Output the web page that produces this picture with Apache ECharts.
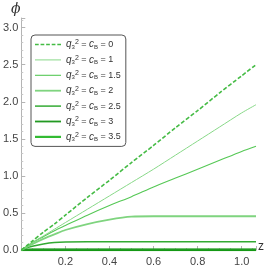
<!DOCTYPE html>
<html><head><meta charset="utf-8">
<script src="https://cdn.jsdelivr.net/npm/echarts@6/dist/echarts.min.js"></script>
<style>html,body{margin:0;padding:0;background:#fff}#c{width:267px;height:267px}</style>
</head><body><div id="c"></div>
<script>
var zValues = [0, 0.025, 0.05, 0.1, 0.15, 0.2, 0.3, 0.4, 0.5, 0.6, 0.7, 0.8, 0.9, 1.0, 1.065];
var legendLabels = ['0', '1', '1.5', '2', '2.5', '3', '3.5'];
var phi_q0   = [0, 0.06, 0.12, 0.24, 0.35, 0.47, 0.71, 0.94, 1.18, 1.41, 1.65, 1.88, 2.12, 2.35, 2.50];
var phi_q1   = [0, 0.05, 0.10, 0.19, 0.28, 0.37, 0.55, 0.73, 0.91, 1.09, 1.28, 1.47, 1.66, 1.85, 1.96];
var phi_q15  = [0, 0.05, 0.10, 0.18, 0.26, 0.33, 0.47, 0.60, 0.72, 0.85, 0.97, 1.09, 1.21, 1.33, 1.40];
var phi_q2   = [0, 0.04, 0.08, 0.15, 0.21, 0.27, 0.35, 0.41, 0.45, 0.455, 0.455, 0.455, 0.455, 0.455, 0.455];
var phi_q25  = [0, 0.03, 0.05, 0.08, 0.10, 0.108, 0.11, 0.11, 0.11, 0.11, 0.11, 0.11, 0.11, 0.11, 0.11];
var phi_q3   = [0, 0.006, 0.008, 0.008, 0.008, 0.008, 0.008, 0.008, 0.008, 0.008, 0.008, 0.008, 0.008, 0.008, 0.008];
var phi_q35  = [0, 0, 0, 0, 0, 0, 0, 0, 0, 0, 0, 0, 0, 0, 0];
var xTicks = [0.2, 0.4, 0.6, 0.8, 1.0];
var yTicks = [0, 0.5, 1, 1.5, 2, 2.5, 3];

var allData = [phi_q0, phi_q1, phi_q15, phi_q2, phi_q25, phi_q3, phi_q35];
var styles = [
  {color:'#44bb44', width:1.6, type:[4,2]},
  {color:'#88d888', width:1.0, type:'solid'},
  {color:'#55c855', width:1.1, type:'solid'},
  {color:'#7fd47f', width:1.8, type:'solid'},
  {color:'#33aa33', width:1.5, type:'solid'},
  {color:'#229922', width:1.8, type:'solid'},
  {color:'#33bb33', width:2.2, type:'solid'}
];
function iconPath(w, dashed){
  if (dashed) {
    var p = '';
    for (var x = 0; x < 26; x += 5.4) p += 'M' + x + ',0h3.6v' + w + 'h-3.6z';
    return 'path://' + p;
  }
  return 'path://M0,0h26v' + w + 'h-26z';
}
var series = allData.map(function(arr, i){
  return {
    name: 'q' + legendLabels[i], type:'line', showSymbol:false, symbol:'none', smooth:0.25,
    data: zValues.map(function(z,j){return [z, arr[j]];}),
    lineStyle:{color:styles[i].color, width:styles[i].width, type:styles[i].type},
    itemStyle:{color:styles[i].color},
    z: 10 - i, animation:false
  };
});
series[6].lineStyle.color = '#119911'; series[6].lineStyle.width = 2.6;

var chart = echarts.init(document.getElementById('c'), null, {renderer:'canvas'});
var axisGray = '#b4b4b4';
var rl = 11;
chart.setOption({
  animation:false,
  grid:{left:17, right:11, top:18, bottom:16.5, containLabel:false},
  xAxis:{type:'value', min:0, max:1.065, interval:0.2,
    axisLine:{onZero:false, lineStyle:{color:axisGray}},
    axisTick:{inside:true, length:4, lineStyle:{color:axisGray}},
    minorTick:{show:true, splitNumber:4, length:2, lineStyle:{color:'#c8c8c8'}},
    splitLine:{show:false},
    axisLabel:{color:'#444', fontSize:11, fontFamily:'Liberation Sans', margin:6,
      formatter:function(v){ return xTicks.some(function(t){return Math.abs(t-v)<1e-6;}) ? v.toFixed(1) : ''; }}
  },
  yAxis:{type:'value', min:0, max:3.13, interval:0.5,
    axisLine:{show:true, onZero:false, lineStyle:{color:axisGray}},
    axisTick:{show:true, inside:true, length:4, lineStyle:{color:axisGray}},
    minorTick:{show:true, splitNumber:5, length:2, lineStyle:{color:'#c8c8c8'}},
    splitLine:{show:false},
    axisLabel:{color:'#444', fontSize:11, fontFamily:'Liberation Sans', margin:3,
      formatter:function(v){ return yTicks.some(function(t){return Math.abs(t-v)<1e-6;}) ? v.toFixed(1) : ''; }}
  },
  legend:{show:true, orient:'vertical', left:31, top:35,
    data: series.map(function(s,i){return {name:s.name, icon:iconPath(styles[i].width, i===0)};}),
    backgroundColor:'#fff', borderColor:'#555', borderWidth:1, borderRadius:4,
    padding:[4,5,4,4], itemGap:4.4, itemWidth:26, itemHeight:11, symbolKeepAspect:true,
    itemStyle:{borderWidth:0},
    textStyle:{color:'#333', fontSize:9, lineHeight:rl, fontFamily:'Liberation Sans',
      rich:{
        q:{fontStyle:'italic', fontSize:10, color:'#333', fontFamily:'Liberation Sans', lineHeight:rl},
        sub:{fontSize:6, color:'#333', verticalAlign:'bottom', lineHeight:rl, padding:[3,0,0,0]},
        sup:{fontSize:7, color:'#333', verticalAlign:'top', lineHeight:rl, padding:[0,0,4,0]},
        t:{fontSize:9, color:'#333', lineHeight:rl}
      }},
    formatter:function(n){ return '{q|q}{sub|3}{sup|2}{t| = }{q|c}{sub|B}{t| = '+n.slice(1)+'}'; }
  },
  graphic:[
    {type:'text', left:11, top:2, style:{text:'ϕ', fontSize:14, fontStyle:'italic', fill:'#333', fontFamily:'DejaVu Serif'}},
    {type:'text', left:258, top:241, style:{text:'z', fontSize:12, fill:'#333', fontFamily:'Liberation Sans'}}
  ],
  series:series
});
</script></body></html>
